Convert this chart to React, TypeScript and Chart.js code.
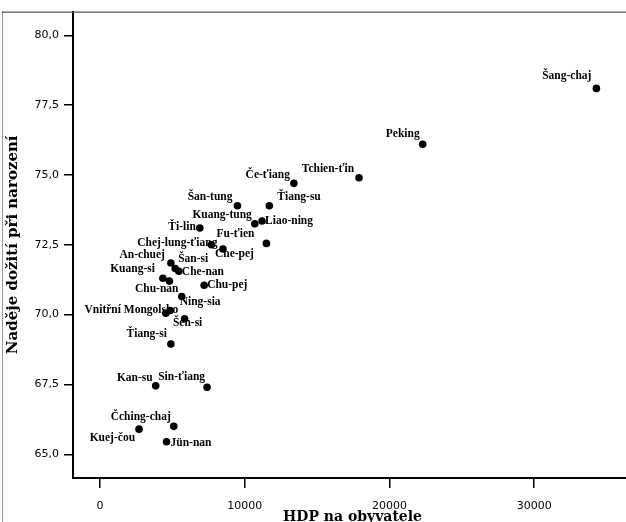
import { useEffect, useRef } from "react";
import { Chart, registerables } from "chart.js";

Chart.register(...registerables);

// ---- data ----
const provinces = [
  "Šang-chaj", "Peking", "Tchien-ťin", "Če-ťiang", "Ťiang-su", "Šan-tung",
  "Kuang-tung", "Liao-ning", "Ťi-lin", "Fu-ťien", "Chej-lung-ťiang", "Che-pej",
  "An-chuej", "Šan-si", "Che-nan", "Kuang-si", "Chu-nan", "Chu-pej",
  "Ning-sia", "", "Vnitřní Mongolsko", "Šen-si", "Ťiang-si", "Kan-su",
  "Sin-ťiang", "Čching-chaj", "Kuej-čou", "Jün-nan",
];
const gdpPerCapita = [
  34300, 22300, 17900, 13400, 11700, 9500,
  10700, 11200, 6900, 11500, 7700, 8500,
  4900, 5200, 5450, 4350, 4800, 7200,
  5650, 4550, 4850, 5850, 4900, 3850,
  7400, 5100, 2700, 4600,
];
const lifeExpectancy = [
  78.1, 76.1, 74.9, 74.7, 73.9, 73.9,
  73.25, 73.35, 73.1, 72.55, 72.5, 72.35,
  71.85, 71.65, 71.55, 71.3, 71.2, 71.05,
  70.65, 70.05, 70.15, 69.85, 68.95, 67.45,
  67.4, 66.0, 65.9, 65.45,
];
const xTickValues = [0, 10000, 20000, 30000];
const xTickLabels = ["0", "10000", "20000", "30000"];
const yTickValues = [65, 67.5, 70, 72.5, 75, 77.5, 80];
const yTickLabels = ["65,0", "67,5", "70,0", "72,5", "75,0", "77,5", "80,0"];

// label placement relative to its point (align, dx, dy in px)
const labelAlign: CanvasTextAlign[] = [
  "right", "right", "right", "right", "left", "right",
  "right", "left", "right", "right", "right", "left",
  "right", "left", "left", "right", "right", "left",
  "left", "left", "right", "center", "right", "right",
  "right", "right", "right", "left",
];
const labelDx = [
  -5, -3, -5, -4, 8, -5,
  -3, 3, -4, -12, 6, -8,
  -6, 3, 3, -8, 9, 3,
  -2, 0, 8, 3, -4, -3,
  -2, -3, -4, 4,
];
const labelDy = [
  -12, -10, -9, -8, -9, -9,
  -9, 0, -1, -9, -2, 5,
  -8, -10, 1, -9, 8, 0,
  6, 0, 0, 4, -10, -8,
  -10, -9, 9, 1,
];

const X_MIN = -1862;
const X_MAX = 36760;
const Y_MIN = 64.15;
const Y_MAX = 80.85;

const labelFont = "bold 11.5px 'Liberation Serif'";

const pointLabels = {
  id: "pointLabels",
  beforeDatasetsDraw(chart: any) {
    const ctx = chart.ctx;
    const meta = chart.getDatasetMeta(0);
    ctx.save();
    ctx.font = labelFont;
    ctx.fillStyle = "#000";
    ctx.textBaseline = "middle";
    meta.data.forEach((pt: any, i: number) => {
      const name = provinces[i];
      if (!name) return;
      ctx.textAlign = labelAlign[i];
      ctx.fillText(name, pt.x + labelDx[i], pt.y + labelDy[i]);
    });
    ctx.restore();
  },
};

const frame = {
  id: "frame",
  afterDraw(chart: any) {
    const ctx = chart.ctx;
    const { top } = chart.chartArea;
    ctx.save();
    ctx.strokeStyle = "#555";
    ctx.lineWidth = 1.2;
    ctx.beginPath();
    ctx.moveTo(2, top + 0.5);
    ctx.lineTo(chart.width, top + 0.5);
    ctx.stroke();
    ctx.setLineDash([1, 1]);
    ctx.strokeStyle = "#333";
    ctx.lineWidth = 1;
    ctx.beginPath();
    ctx.moveTo(2.5, top);
    ctx.lineTo(2.5, chart.height);
    ctx.stroke();
    ctx.restore();
  },
};

export default function App() {
  const ref = useRef<HTMLCanvasElement | null>(null);

  useEffect(() => {
    if (!ref.current) return;
    const chart = new Chart(ref.current, {
      type: "scatter",
      data: {
        datasets: [
          {
            data: gdpPerCapita.map((x, i) => ({ x, y: lifeExpectancy[i] })),
            backgroundColor: "#000",
            borderColor: "#000",
            pointRadius: 3.8,
            pointBorderWidth: 0,
          },
        ],
      },
      options: {
        animation: false,
        responsive: false,
        devicePixelRatio: 1,
        layout: { padding: { top: 7, right: 3, left: 0, bottom: 0 } },
        plugins: {
          legend: { display: false },
          tooltip: { enabled: false },
        },
        scales: {
          x: {
            type: "linear",
            min: X_MIN,
            max: X_MAX,
            afterBuildTicks: (axis: any) => {
              axis.ticks = xTickValues.map((v) => ({ value: v }));
            },
            afterFit: (axis: any) => {
              axis.height = 50;
            },
            ticks: {
              color: "#000",
              font: { family: "'DejaVu Sans'", size: 11 },
              padding: 12,
              callback: (v: any) => xTickLabels[xTickValues.indexOf(Number(v))] ?? "",
            },
            grid: {
              drawOnChartArea: false,
              drawTicks: true,
              tickLength: 10,
              color: "#000",
              lineWidth: 1.5,
            },
            border: { display: true, color: "#000", width: 2 },
            title: {
              display: true,
              text: "HDP na obyvatele",
              color: "#000",
              font: { family: "'DejaVu Serif'", size: 14, weight: "bold" },
              padding: { top: 0, bottom: 2 },
            },
          },
          y: {
            type: "linear",
            min: Y_MIN,
            max: Y_MAX,
            afterBuildTicks: (axis: any) => {
              axis.ticks = yTickValues.map((v) => ({ value: v }));
            },
            afterFit: (axis: any) => {
              axis.width = 73;
            },
            ticks: {
              color: "#000",
              font: { family: "'DejaVu Sans'", size: 11 },
              padding: 5,
              callback: (v: any) => yTickLabels[yTickValues.indexOf(Number(v))] ?? "",
            },
            grid: {
              drawOnChartArea: false,
              drawTicks: true,
              tickLength: 9,
              color: "#000",
              lineWidth: 1.5,
            },
            border: { display: true, color: "#000", width: 2 },
            title: {
              display: true,
              text: "Naděje dožití při narození",
              color: "#000",
              font: { family: "'DejaVu Serif'", size: 15, weight: "bold" },
              padding: { top: 4, bottom: 0 },
            },
          },
        },
      },
      plugins: [pointLabels, frame],
    });
    return () => chart.destroy();
  }, []);

  return (
    <div
      style={{
        position: "fixed",
        left: 0,
        top: 0,
        width: 626,
        height: 522,
        overflow: "hidden",
        background: "#fff",
      }}
    >
      <canvas ref={ref} width={636} height={528} style={{ display: "block" }} />
    </div>
  );
}
